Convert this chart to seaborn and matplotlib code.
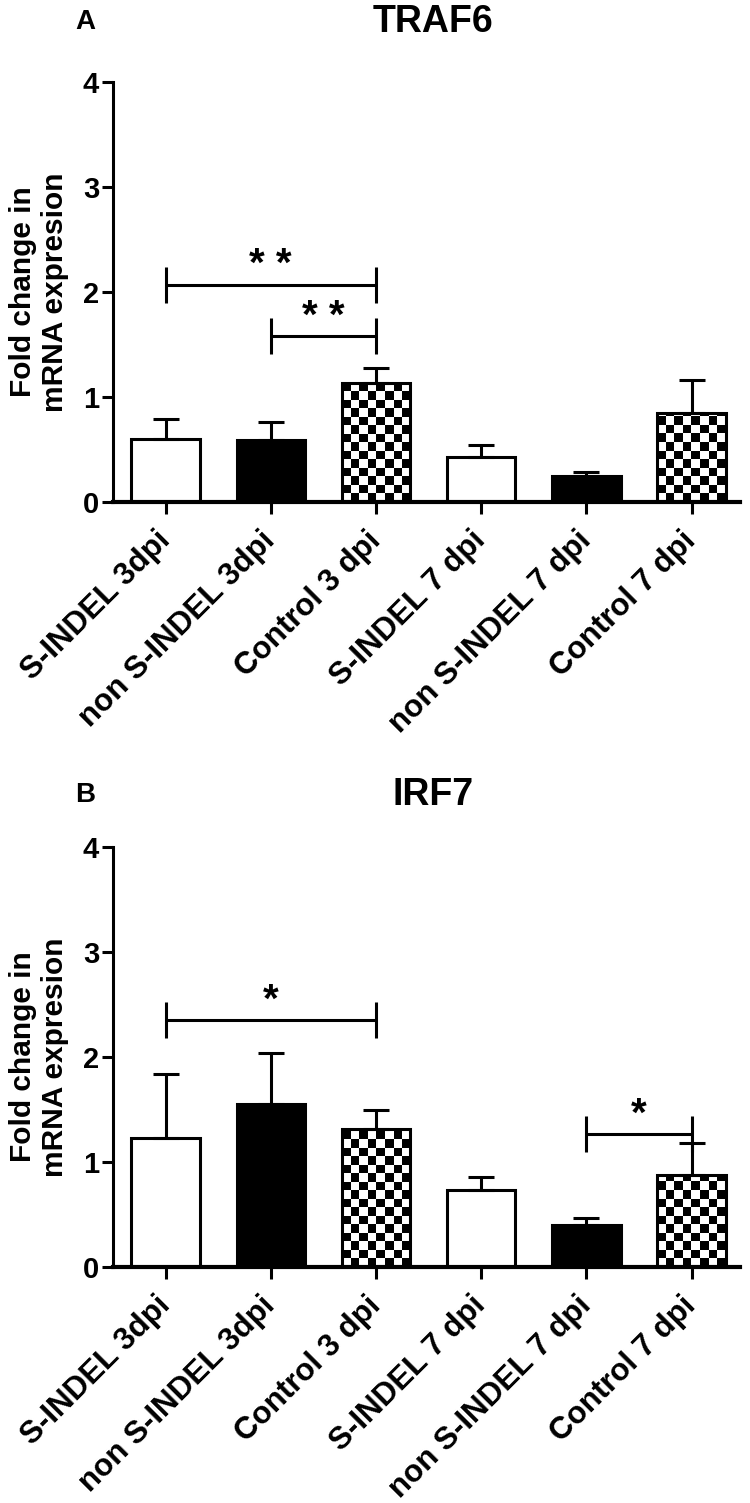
import numpy as np
import pandas as pd
import seaborn as sns
import matplotlib
matplotlib.use("Agg")
import matplotlib.pyplot as plt

# data
groups = ["S-INDEL 3dpi", "non S-INDEL 3dpi", "Control 3 dpi",
          "S-INDEL 7 dpi", "non S-INDEL 7 dpi", "Control 7 dpi"]
traf6_mean = [0.60, 0.59, 1.13, 0.43, 0.25, 0.85]
traf6_err = [0.19, 0.17, 0.15, 0.11, 0.04, 0.31]
irf7_mean = [1.23, 1.55, 1.31, 0.73, 0.40, 0.88]
irf7_err = [0.61, 0.49, 0.19, 0.13, 0.07, 0.30]
fills = ["white", "black", "checker", "white", "black", "checker"]

# significance brackets: (group i, group j, height, label)
traf6_sig = [(0, 2, 2.07, "**"), (1, 2, 1.58, "**")]
irf7_sig = [(0, 2, 2.35, "*"), (4, 5, 1.27, "*")]

sns.set_style("ticks")
plt.rcParams['font.family'] = ['Liberation Sans', 'DejaVu Sans']
plt.rcParams['font.weight'] = 'bold'
for key in ["text.color", "axes.labelcolor", "xtick.color", "ytick.color", "axes.edgecolor"]:
    plt.rcParams[key] = "black"

LW = 2.2
CHECK_PX = 8.5


def checker_fill(ax, patch):
    x0, y0 = patch.get_x(), patch.get_y()
    w, h = patch.get_width(), patch.get_height()
    p0 = ax.transData.transform((x0, y0))
    p1 = ax.transData.transform((x0 + w, y0 + h))
    ncol = max(1, int(round((p1[0] - p0[0]) / CHECK_PX)))
    px_per_unit = (p1[1] - p0[1]) / h
    ch = CHECK_PX / px_per_unit
    nrow = int(np.ceil(h / ch))
    grid = np.indices((nrow, ncol)).sum(axis=0) % 2
    im = ax.imshow(grid, cmap="gray_r", vmin=0, vmax=1, origin="lower",
                   extent=(x0, x0 + w, y0, y0 + nrow * ch), aspect="auto",
                   interpolation="nearest", zorder=1.5)
    im.set_clip_path(patch)
    patch.set_facecolor("none")
    patch.set_zorder(2)


def panel(ax, means, errs, sig, title, letter, title_y):
    df = pd.DataFrame({"group": groups, "value": means})
    pal = {g: ("white" if f == "checker" else f) for g, f in zip(groups, fills)}
    sns.barplot(data=df, x="group", y="value", hue="group", palette=pal,
                legend=False, width=0.65, edgecolor="black", linewidth=LW,
                errorbar=None, ax=ax, saturation=1)
    ax.errorbar(range(len(groups)), means, yerr=[np.zeros(len(errs)), errs],
                fmt="none", ecolor="black", elinewidth=LW, capsize=9.5,
                capthick=LW, zorder=3)
    ax.set_xlim(-0.5, 5.46)
    ax.set_ylim(0, 4)
    ax.set_yticks([0, 1, 2, 3, 4])
    for patch, f in zip(ax.patches, fills):
        if f == "checker":
            checker_fill(ax, patch)
    for i, j, y, lab in sig:
        ax.plot([i, j], [y, y], color="black", lw=LW, solid_capstyle="butt", zorder=4)
        for k in (i, j):
            ax.plot([k, k], [y - 0.17, y + 0.17], color="black", lw=LW,
                    solid_capstyle="butt", zorder=4)
        ax.text((i + j) / 2, y + 0.08, " ".join(lab), ha="center", va="baseline",
                fontsize=29, fontweight="bold")
    ax.set_xlabel("")
    ax.set_ylabel("Fold change in\nmRNA expresion", fontsize=21.5, fontweight="bold")
    ax.yaxis.set_label_coords(-0.07, 0.5)
    ax.tick_params(axis="y", labelsize=21, length=8, width=LW, pad=2)
    ax.tick_params(axis="x", labelsize=22.5, length=8.5, width=LW, pad=16)
    plt.setp(ax.get_xticklabels(), rotation=45, ha="right", va="center",
             rotation_mode="anchor")
    sns.despine(ax=ax)
    ax.spines["left"].set_linewidth(LW)
    ax.spines["bottom"].set_linewidth(3)
    fig = ax.figure
    fig.text(433 / 750, 1 - title_y / 1503, title, ha="center", va="baseline",
             fontsize=27, fontweight="bold")
    fig.text(85 / 750, 1 - (title_y - 3) / 1503, letter, ha="center", va="baseline",
             fontsize=20, fontweight="bold")


fig = plt.figure(figsize=(7.5, 15.03), dpi=100)
ax1 = fig.add_axes([113 / 750, 0.666, 627 / 750, 0.2794])
ax2 = fig.add_axes([113 / 750, 0.157, 627 / 750, 0.2794])
panel(ax1, traf6_mean, traf6_err, traf6_sig, "TRAF6", "A", 32)
panel(ax2, irf7_mean, irf7_err, irf7_sig, "IRF7", "B", 805)

plt.savefig("out.png", dpi=100, facecolor="white")
plt.close()
